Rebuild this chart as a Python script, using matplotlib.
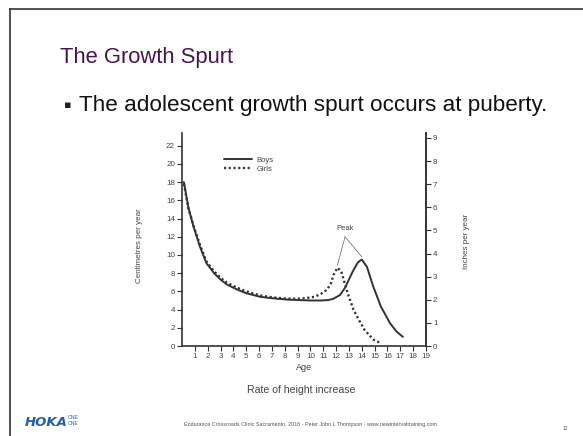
import matplotlib
matplotlib.use('Agg')
import matplotlib.pyplot as plt
from matplotlib.lines import Line2D

# ---- data ----
boys_age = [0.15, 0.5, 0.9, 1.4, 1.9, 2.5, 3.0, 3.5, 4.3, 5.0, 6.1, 7.0, 8.2, 9.0,
            10.0, 10.8, 11.4, 11.8, 12.3, 12.7, 13.3, 13.7, 14.0, 14.4, 14.9,
            15.5, 16.2, 16.7, 17.2]
boys_cm = [18.0, 15.2, 13.1, 10.9, 9.1, 8.0, 7.3, 6.75, 6.2, 5.8, 5.4, 5.25, 5.1, 5.05,
           5.0, 5.0, 5.05, 5.2, 5.6, 6.4, 8.2, 9.2, 9.5, 8.7, 6.5,
           4.3, 2.5, 1.6, 1.0]

girls_age = [0.15, 0.5, 0.9, 1.4, 1.9, 2.5, 3.0, 3.5, 4.3, 5.0, 6.1, 7.0, 8.2, 9.0,
             9.6, 10.3, 10.8, 11.3, 11.6, 11.8, 12.1, 12.4, 12.9, 13.35, 13.8,
             14.2, 14.9, 15.5]
girls_cm = [17.8, 15.1, 13.2, 11.1, 9.3, 8.2, 7.5, 6.95, 6.4, 6.0, 5.55, 5.35, 5.2, 5.2,
            5.25, 5.4, 5.7, 6.2, 6.9, 7.8, 8.6, 8.2, 5.8, 4.0, 2.8,
            1.8, 0.7, 0.3]

cm_ticks = list(range(0, 23, 2))
inch_ticks = list(range(0, 10))
age_ticks = list(range(1, 20))
series_labels = ['Boys', 'Girls']
peak_label = 'Peak'
peak_text_xy = (12.7, 12.5)
peak_from_xy = (12.7, 12.0)
girls_peak_xy = (12.1, 8.9)
boys_peak_xy = (14.0, 9.8)
cm_per_inch = 2.54

W, H = 583, 436
FONT = 'Liberation Sans'
LINE = '#333333'
TXT = '#444444'

def fx(px):
    return px / W

def fy(py):
    return 1 - py / H

fig = plt.figure(figsize=(W / 100, H / 100), dpi=100)
fig.patch.set_facecolor('white')

# slide border
fig.add_artist(Line2D([fx(10), fx(10)], [fy(9), fy(436)], color='#333333', lw=1.2))
fig.add_artist(Line2D([fx(10), fx(583)], [fy(9), fy(9)], color='#333333', lw=1.2))

# slide title & bullet
fig.text(fx(60), fy(63), 'The Growth Spurt', family=FONT, fontsize=15.8,
         color='#4a1452', va='baseline', ha='left')
fig.text(fx(64), fy(108), '\u25aa', family='DejaVu Sans', fontsize=8,
         color='#222222', va='baseline', ha='left')
fig.text(fx(79), fy(111), 'The adolescent growth spurt occurs at puberty.', family=FONT,
         fontsize=16.2, color='#111111', va='baseline', ha='left')

# chart
ax = fig.add_axes([fx(182), 90 / H, 244 / W, 213 / H])
ytop = 23.4
ax.set_xlim(0, 19)
ax.set_ylim(0, ytop)
ax.plot(boys_age, boys_cm, color=LINE, lw=1.4, solid_capstyle='round', label=series_labels[0])
ax.plot(girls_age, girls_cm, color=LINE, lw=1.7, linestyle=(0, (0.9, 1.1)), label=series_labels[1])

for s in ['left', 'bottom', 'right']:
    ax.spines[s].set_color(LINE)
    ax.spines[s].set_linewidth(1.2)
ax.spines['top'].set_visible(False)

ax.set_xticks(age_ticks)
ax.set_xticklabels([str(a) for a in age_ticks])
ax.set_yticks(cm_ticks)
ax.set_yticklabels([str(v) for v in cm_ticks])
ax.tick_params(axis='both', direction='out', length=3.5, width=0.8, color=LINE,
               labelsize=5.8, labelcolor=TXT, pad=1.5)
for lab in ax.get_xticklabels() + ax.get_yticklabels():
    lab.set_family(FONT)

ax2 = ax.twinx()
ax2.set_ylim(0, ytop / cm_per_inch)
ax2.set_yticks(inch_ticks)
ax2.set_yticklabels([str(v) for v in inch_ticks])
ax2.tick_params(axis='y', direction='out', length=3.5, width=0.8, color=LINE,
                labelsize=5.8, labelcolor=TXT, pad=1.5)
for lab in ax2.get_yticklabels():
    lab.set_family(FONT)
for s in ['left', 'bottom', 'top']:
    ax2.spines[s].set_visible(False)
ax2.spines['right'].set_color(LINE)
ax2.spines['right'].set_linewidth(1.2)

ax.set_ylabel('Centimetres per year', family=FONT, fontsize=5.8, color=TXT)
ax.yaxis.set_label_coords(-0.16, 0.47)
ax2.set_ylabel('Inches per year', family=FONT, fontsize=5.8, color=TXT, rotation=90)
ax2.yaxis.set_label_coords(1.15, 0.49)
ax.set_xlabel('Age', family=FONT, fontsize=6.5, color=TXT, labelpad=2)

fig.text(fx(301), fy(390), 'Rate of height increase', family=FONT, fontsize=7.6,
         color=TXT, ha='center', va='center')

leg = ax.legend(loc='upper left', bbox_to_anchor=(0.16, 0.905), frameon=False,
                prop={'family': FONT, 'size': 5.5}, handlelength=3.6, labelspacing=0.25,
                handletextpad=0.6, borderaxespad=0)
for t in leg.get_texts():
    t.set_color(TXT)

# peak annotation
ax.text(peak_text_xy[0], peak_text_xy[1], peak_label, family=FONT, fontsize=5.5,
        color=TXT, ha='center', va='bottom')
ax.plot([peak_from_xy[0], girls_peak_xy[0]], [peak_from_xy[1], girls_peak_xy[1]],
        color='#777777', lw=0.6)
ax.plot([peak_from_xy[0], boys_peak_xy[0]], [peak_from_xy[1], boys_peak_xy[1]],
        color='#777777', lw=0.6)

# footer
fig.text(fx(25), fy(426), 'HOKA', family='DejaVu Sans', fontsize=9.5, weight='bold',
         style='italic', color='#1f5fae', ha='left', va='baseline')
fig.text(fx(68), fy(419), 'ONE', family=FONT, fontsize=3.6, color='#1f5fae',
         ha='left', va='baseline')
fig.text(fx(68), fy(425), 'ONE', family=FONT, fontsize=3.6, color='#1f5fae',
         ha='left', va='baseline')
fig.text(fx(310), fy(424), 'Endurance Crossroads Clinic Sacramento, 2016 - Peter John L Thompson - www.newintervaltraining.com',
         family=FONT, fontsize=3.9, color='#555555', ha='center', va='center')
fig.text(fx(565), fy(428), '12', family=FONT, fontsize=3.6, color='#555555',
         ha='center', va='center')

fig.savefig('out.png', dpi=100, facecolor='white')
